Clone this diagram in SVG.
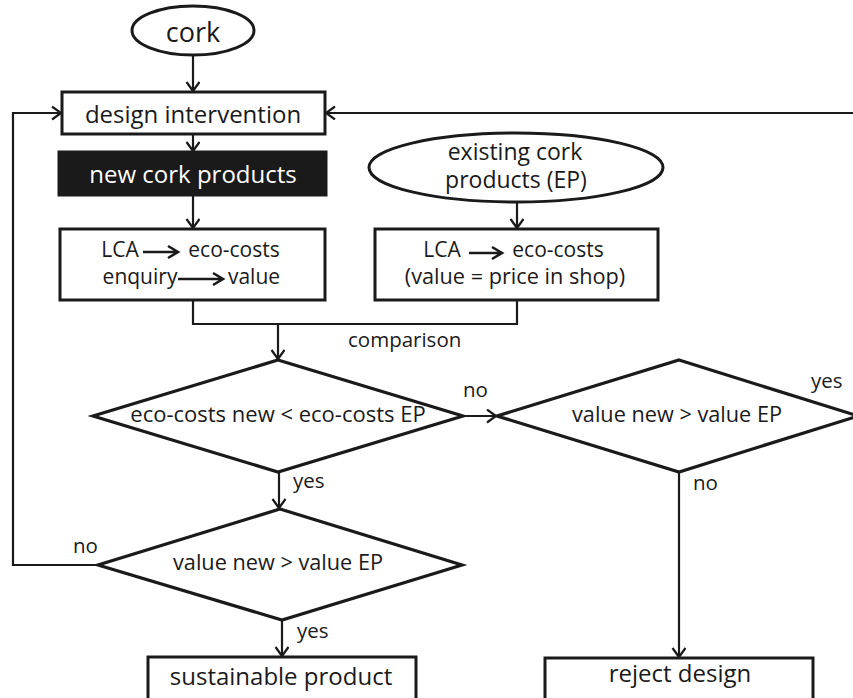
<svg xmlns="http://www.w3.org/2000/svg" width="853" height="698" viewBox="0 0 853 698">
<style>
  .box { fill: #fff; stroke: #1a1a1a; stroke-width: 3; }
  .dark { fill: #1a1a1a; stroke: #1a1a1a; stroke-width: 3; }
  .dia { fill: #fff; stroke: #1a1a1a; stroke-width: 3.2; stroke-linejoin: miter; }
  .con { fill: none; stroke: #1a1a1a; stroke-width: 2.2; }
  .t { font-family: "Open Sans", "Noto Sans", "Liberation Sans", sans-serif; font-size: 21px; fill: #1a1a1a; text-anchor: middle; }
  .big { font-size: 24px; }
  .mid { font-size: 23px; }
  .huge { font-size: 27px; }
  .dt { font-size: 21.7px; }
  .dt2 { font-size: 22px; }
  .w { fill: #fff; }
  .lab { font-family: "Open Sans", "Noto Sans", "Liberation Sans", sans-serif; font-size: 20.5px; fill: #1a1a1a; }
  .ta { fill: none; stroke: #1a1a1a; stroke-width: 2.6; stroke-linejoin: miter; }
</style>
<defs>
  <marker id="arr" markerUnits="userSpaceOnUse" markerWidth="14" markerHeight="16" refX="10" refY="7" orient="auto">
    <path d="M1,0.5 L10,7 L1,13.5" fill="none" stroke="#1a1a1a" stroke-width="2.2"/>
  </marker>
</defs>

<g id="connectors">
  <line class="con" x1="193" y1="55" x2="193" y2="91" marker-end="url(#arr)"/>
  <line class="con" x1="193" y1="134" x2="193" y2="151" marker-end="url(#arr)"/>
  <line class="con" x1="193" y1="195" x2="193" y2="228" marker-end="url(#arr)"/>
  <line class="con" x1="517" y1="202" x2="517" y2="228" marker-end="url(#arr)"/>
  <polyline class="con" points="193,300 193,324 517,324 517,300"/>
  <line class="con" x1="278" y1="324" x2="278" y2="359" marker-end="url(#arr)"/>
  <line class="con" x1="463" y1="416" x2="496" y2="416" marker-end="url(#arr)"/>
  <line class="con" x1="279" y1="472" x2="279" y2="508" marker-end="url(#arr)"/>
  <line class="con" x1="679" y1="472" x2="679" y2="657" marker-end="url(#arr)"/>
  <line class="con" x1="282" y1="620" x2="282" y2="656" marker-end="url(#arr)"/>
  <polyline class="con" points="98,565 13,565 13,113 61,113" marker-end="url(#arr)"/>
  <line class="con" x1="853" y1="113" x2="326" y2="113" marker-end="url(#arr)"/>
  <text class="lab" x="348" y="347">comparison</text>
  <text class="lab" x="463" y="397">no</text>
  <text class="lab" x="811" y="388">yes</text>
  <text class="lab" x="293" y="488">yes</text>
  <text class="lab" x="693" y="490">no</text>
  <text class="lab" x="73" y="553">no</text>
  <text class="lab" x="297" y="638">yes</text>
</g>

<g id="cork">
  <ellipse class="box" cx="193" cy="30.5" rx="61" ry="24.5"/>
  <text class="t huge" x="193" y="42">cork</text>
</g>

<g id="design-intervention">
  <rect class="box" x="62" y="92" width="263" height="42"/>
  <text class="t big" x="193" y="123">design intervention</text>
</g>

<g id="new-cork-products">
  <rect class="dark" x="59" y="152" width="267" height="43"/>
  <text class="t big w" x="193" y="183">new cork products</text>
</g>

<g id="existing-cork-products">
  <ellipse class="box" cx="516" cy="167.5" rx="147" ry="34.5"/>
  <text class="t mid" x="515" y="160">existing cork</text>
  <text class="t mid" x="516" y="188">products (EP)</text>
</g>

<g id="lca-new">
  <rect class="box" x="60" y="229" width="265" height="71"/>
  <text class="t" x="120" y="257">LCA</text>
  <path class="ta" d="M143,252 L177,252 M168,246 L178,252 L168,258"/>
  <text class="t" x="234" y="257">eco-costs</text>
  <text class="t" x="140" y="284">enquiry</text>
  <path class="ta" d="M178,279 L222,279 M213,273 L223,279 L213,285"/>
  <text class="t" x="254" y="284">value</text>
</g>

<g id="lca-existing">
  <rect class="box" x="375" y="229" width="283" height="71"/>
  <text class="t" x="442" y="257">LCA</text>
  <path class="ta" d="M469,253 L501,253 M492,247 L502,253 L492,259"/>
  <text class="t" x="558" y="257">eco-costs</text>
  <text class="t dt" x="515" y="284">(value = price in shop)</text>
</g>

<g id="decision-eco-costs">
  <polygon class="dia" points="278,360 463,416 278,472 93,416"/>
  <text class="t dt2" x="278" y="422">eco-costs new &lt; eco-costs EP</text>
</g>

<g id="decision-value-right">
  <polygon class="dia" points="679,360 858,416 679,472 497,416"/>
  <text class="t dt" x="677" y="422">value new &gt; value EP</text>
</g>

<g id="decision-value-left">
  <polygon class="dia" points="280,509 462,565 282,620 98,565"/>
  <text class="t dt" x="278" y="570">value new &gt; value EP</text>
</g>

<g id="sustainable-product">
  <rect class="box" x="148" y="657" width="268" height="43"/>
  <text class="t big" x="281" y="685">sustainable product</text>
</g>

<g id="reject-design">
  <rect class="box" x="545" y="658" width="268" height="42"/>
  <text class="t big" x="680" y="682">reject design</text>
</g>
</svg>
